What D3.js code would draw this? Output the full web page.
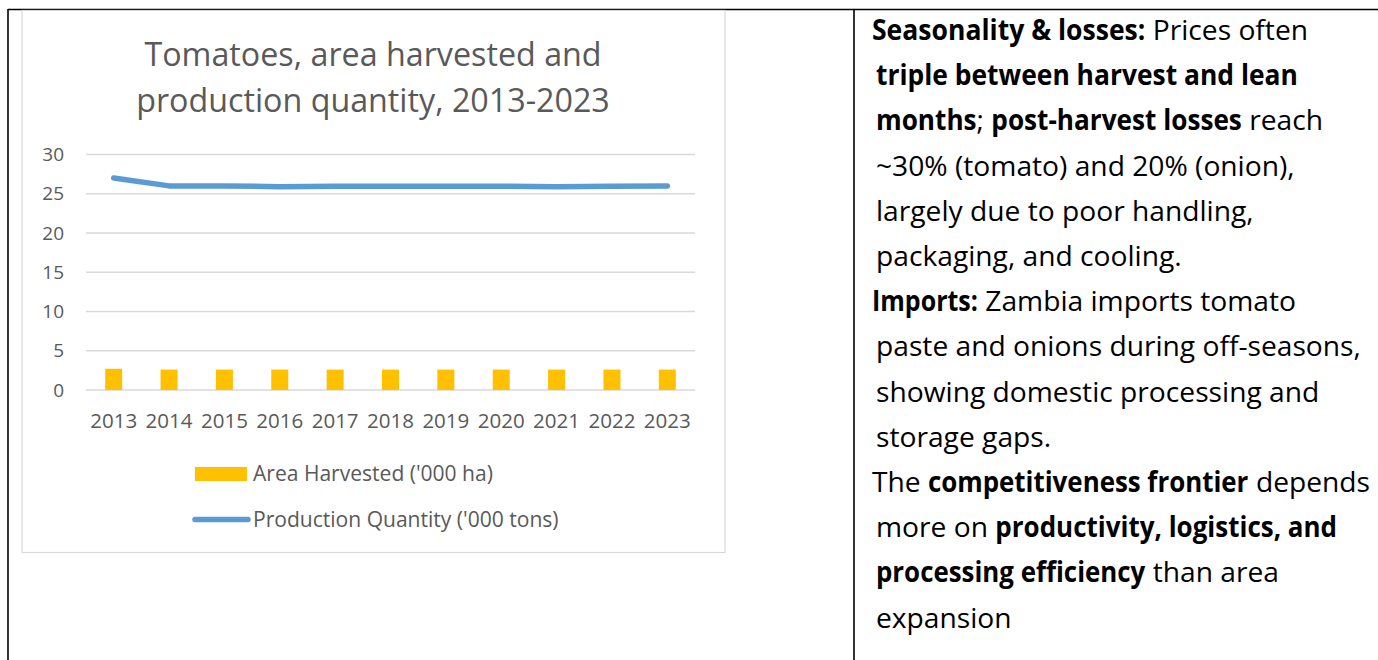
<!DOCTYPE html>
<html>
<head>
<meta charset="utf-8">
<script src="https://cdn.jsdelivr.net/npm/d3@7"></script>
<style>
  html, body { margin: 0; padding: 0; background: #fff; }
  svg { display: block; }
</style>
</head>
<body>
<div id="chart"></div>
<script>
// 数据
const years = ['2013', '2014', '2015', '2016', '2017', '2018', '2019', '2020', '2021', '2022', '2023'];
const areaHarvested = [2.7, 2.6, 2.6, 2.6, 2.6, 2.6, 2.6, 2.6, 2.6, 2.6, 2.6];
const productionQty = [27.0, 26.0, 26.0, 25.9, 25.95, 25.95, 25.95, 25.95, 25.9, 25.95, 26.0];
const yTicks = [0, 5, 10, 15, 20, 25, 30];
const titleLines = ['Tomatoes, area harvested and', 'production quantity, 2013-2023'];
const legendLabels = ["Area Harvested ('000 ha)", "Production Quantity ('000 tons)"];

// 右侧文字：每行由 [文本, 是否加粗] 片段组成
const noteLines = [
  [['Seasonality & losses:', true], [' Prices often', false]],
  [['triple between harvest and lean', true]],
  [['months', true], ['; ', false], ['post-harvest losses', true], [' reach', false]],
  [['~30% (tomato) and 20% (onion),', false]],
  [['largely due to poor handling,', false]],
  [['packaging, and cooling.', false]],
  [['Imports:', true], [' Zambia imports tomato', false]],
  [['paste and onions during off-seasons,', false]],
  [['showing domestic processing and', false]],
  [['storage gaps.', false]],
  [['The ', false], ['competitiveness frontier', true], [' depends', false]],
  [['more on ', false], ['productivity, logistics, and', true]],
  [['processing efficiency', true], [' than area', false]],
  [['expansion', false]]
];

// 右侧文字每行的版式：缩进与行宽（像素）
const noteIndent = [0, 4, 4, 4, 4, 4, 0, 4, 4, 4, 0, 4, 4, 4];
const noteWidth = [436, 422, 447, 420, 382, 300, 424, 494, 434, 181, 498, 461, 403, 130];

const W = 1378, H = 660;
const font = '"Open Sans", "Noto Sans", sans-serif';
const grey = '#595959';

// 根据目标宽度调整字号
function fitSize(sel, baseSize, targets) {
  let measured = 0, wanted = 0;
  targets.forEach(([idx, w]) => {
    measured += sel.nodes()[idx].getComputedTextLength();
    wanted += w;
  });
  const size = baseSize * wanted / measured;
  sel.attr('font-size', size);
  return size;
}

const svg = d3.select('#chart').append('svg')
  .attr('width', W)
  .attr('height', H);

// 表格边框
const border = svg.append('g').attr('stroke', '#000').attr('stroke-width', 1.6);
border.append('line').attr('x1', 8).attr('x2', W).attr('y1', 9.5).attr('y2', 9.5);
border.append('line').attr('x1', 8).attr('x2', 8).attr('y1', 9).attr('y2', H);
border.append('line').attr('x1', 854).attr('x2', 854).attr('y1', 9).attr('y2', H);

// 图表外框
svg.append('rect')
  .attr('x', 22).attr('y', 10.5)
  .attr('width', 703).attr('height', 542)
  .attr('fill', '#fff')
  .attr('stroke', '#d9d9d9')
  .attr('stroke-width', 1.2);

// 标题
const title = svg.append('g')
  .selectAll('text')
  .data(titleLines)
  .enter()
  .append('text')
  .attr('x', 373)
  .attr('y', (d, i) => 66 + i * 46)
  .attr('text-anchor', 'middle')
  .attr('font-family', font)
  .attr('font-size', 28)
  .attr('fill', grey)
  .text(d => d);
fitSize(title, 28, [[0, 453], [1, 478]]);

// 比例尺
const x = d3.scaleBand().domain(years).range([86, 695]);
const y = d3.scaleLinear().domain([0, 30]).range([390, 154.5]);

// 网格线
svg.append('g')
  .selectAll('line')
  .data(yTicks)
  .enter()
  .append('line')
  .attr('x1', 86).attr('x2', 695)
  .attr('y1', d => y(d)).attr('y2', d => y(d))
  .attr('stroke', '#d9d9d9')
  .attr('stroke-width', 1.3);

// Y 轴
const yAxis = svg.append('g')
  .attr('transform', 'translate(64,0)')
  .call(d3.axisLeft(y).tickValues(yTicks).tickSize(0).tickPadding(0));
yAxis.select('.domain').remove();
yAxis.selectAll('text')
  .attr('font-family', font)
  .attr('font-size', 19)
  .attr('fill', grey);

// X 轴
const xAxis = svg.append('g')
  .attr('transform', 'translate(0,390)')
  .call(d3.axisBottom(x).tickSize(0).tickPadding(23));
xAxis.select('.domain').remove();
xAxis.selectAll('text')
  .attr('font-family', font)
  .attr('font-size', 19)
  .attr('fill', grey);
fitSize(xAxis.selectAll('text'), 19, [[0, 47]]);

// 柱子
const barW = 17;
svg.append('g')
  .selectAll('rect')
  .data(areaHarvested)
  .enter()
  .append('rect')
  .attr('x', (d, i) => x(years[i]) + x.bandwidth() / 2 - barW / 2)
  .attr('y', d => y(d))
  .attr('width', barW)
  .attr('height', d => y(0) - y(d))
  .attr('fill', '#ffc000');

// 折线
const line = d3.line()
  .x((d, i) => x(years[i]) + x.bandwidth() / 2)
  .y(d => y(d));

svg.append('path')
  .datum(productionQty)
  .attr('d', line)
  .attr('fill', 'none')
  .attr('stroke', '#5b9bd5')
  .attr('stroke-width', 5.5)
  .attr('stroke-linecap', 'round')
  .attr('stroke-linejoin', 'round');

// 图例
const legend = svg.append('g');
legend.append('rect')
  .attr('x', 195).attr('y', 467)
  .attr('width', 52).attr('height', 14)
  .attr('fill', '#ffc000');
legend.append('line')
  .attr('x1', 195).attr('x2', 248)
  .attr('y1', 519.5).attr('y2', 519.5)
  .attr('stroke', '#5b9bd5')
  .attr('stroke-width', 5.5)
  .attr('stroke-linecap', 'round');
const legendText = legend.selectAll('text')
  .data(legendLabels)
  .enter()
  .append('text')
  .attr('x', 253)
  .attr('y', (d, i) => 481 + i * 46)
  .attr('font-family', font)
  .attr('font-size', 18)
  .attr('fill', grey)
  .text(d => d);
fitSize(legendText, 18, [[0, 240], [1, 306]]);

// 右侧说明文字：每个片段单独一个 text，粗体片段横向压缩
const notes = svg.append('g')
  .attr('font-family', font)
  .attr('fill', '#000');

const rows = notes.selectAll('g.row')
  .data(noteLines)
  .enter()
  .append('g')
  .attr('class', 'row')
  .attr('transform', (d, i) => `translate(${872 + noteIndent[i]},${40 + i * 45.2})`);

const pieces = rows.selectAll('text')
  .data(d => d)
  .enter()
  .append('text')
  .attr('font-size', 24)
  .attr('font-weight', p => p[1] ? 700 : 400)
  .attr('xml:space', 'preserve')
  .style('white-space', 'pre')
  .text(p => p[0]);

// 用只含常规字重的行确定字号
let plainMeasured = 0, plainWanted = 0;
rows.each(function(d, i) {
  if (d.every(p => !p[1])) {
    plainMeasured += d3.select(this).select('text').node().getComputedTextLength();
    plainWanted += noteWidth[i];
  }
});
const noteSize = 24 * plainWanted / plainMeasured;
pieces.attr('font-size', noteSize);

rows.each(function(d, i) {
  const texts = d3.select(this).selectAll('text').nodes();
  const widths = texts.map(n => n.getComputedTextLength());
  let regular = 0, bold = 0;
  d.forEach((p, j) => { if (p[1]) bold += widths[j]; else regular += widths[j]; });
  const k = bold > 0 ? Math.min(1, (noteWidth[i] - regular) / bold) : 1;
  let cx = 0;
  texts.forEach((n, j) => {
    const s = d[j][1] ? k : 1;
    d3.select(n).attr('transform', `translate(${cx},0) scale(${s},1)`);
    cx += widths[j] * s;
  });
});
</script>
</body>
</html>
